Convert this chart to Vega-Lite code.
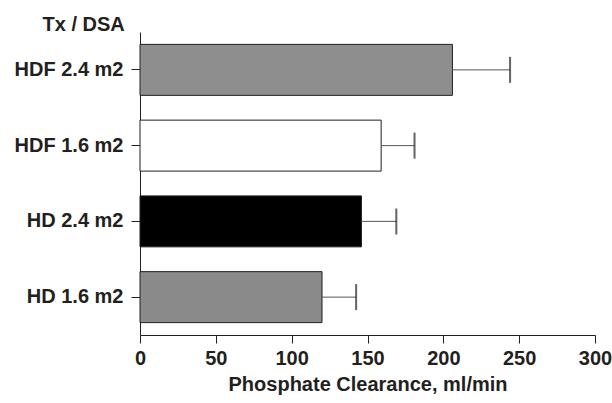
{
  "$schema": "https://vega.github.io/schema/vega-lite/v6.json",
  "width": 455,
  "height": 303,
  "autosize": {"type": "none"},
  "padding": {"left": 140, "top": 32, "right": 17, "bottom": 68},
  "config": {"view": {"stroke": null}, "font": "Liberation Sans"},
  "data": {"values": [
    {"group": "HDF 2.4 m2", "mean": 206, "upper": 244},
    {"group": "HDF 1.6 m2", "mean": 159, "upper": 181},
    {"group": "HD 2.4 m2", "mean": 146, "upper": 169},
    {"group": "HD 1.6 m2", "mean": 120, "upper": 142.5}
  ]},
  "encoding": {
    "y": {
      "field": "group", "type": "nominal",
      "sort": ["HDF 2.4 m2", "HDF 1.6 m2", "HD 2.4 m2", "HD 1.6 m2"],
      "scale": {"paddingInner": 0.327, "paddingOuter": 0.1635},
      "axis": {
        "title": "Tx / DSA", "titleAngle": 0, "titleX": -15.7, "titleY": -2,
        "titleAlign": "right", "titleBaseline": "alphabetic",
        "titleFontSize": 20, "titleFontWeight": "bold", "titleColor": "#231f20",
        "labelFontSize": 20, "labelFontWeight": "bold", "labelColor": "#231f20",
        "tickSize": 9, "labelPadding": 8, "tickColor": "#231f20", "domainColor": "#231f20",
        "grid": false
      }
    }
  },
  "layer": [
    {
      "mark": {"type": "bar", "stroke": "#231f20", "strokeWidth": 1},
      "encoding": {
        "x": {
          "field": "mean", "type": "quantitative",
          "scale": {"domain": [0, 300], "nice": false},
          "axis": {
            "values": [0, 50, 100, 150, 200, 250, 300],
            "title": "Phosphate Clearance, ml/min",
            "titleFontSize": 20, "titleFontWeight": "bold", "titleColor": "#231f20", "titlePadding": 6,
            "labelFontSize": 20, "labelFontWeight": "bold", "labelColor": "#231f20",
            "labelFlush": false, "tickSize": 8, "labelPadding": 5,
            "tickColor": "#231f20", "domainColor": "#231f20", "grid": false
          }
        },
        "color": {
          "field": "group", "type": "nominal",
          "scale": {"domain": ["HDF 2.4 m2", "HDF 1.6 m2", "HD 2.4 m2", "HD 1.6 m2"],
                    "range": ["#8e8e8e", "#ffffff", "#000000", "#8a8a8a"]},
          "legend": null
        }
      }
    },
    {
      "mark": {"type": "rule", "color": "#555555", "strokeWidth": 1},
      "encoding": {
        "x": {"field": "mean", "type": "quantitative"},
        "x2": {"field": "upper"}
      }
    },
    {
      "mark": {"type": "tick", "orient": "vertical", "color": "#231f20", "thickness": 2, "size": 26},
      "encoding": {
        "x": {"field": "upper", "type": "quantitative"}
      }
    }
  ]
}
